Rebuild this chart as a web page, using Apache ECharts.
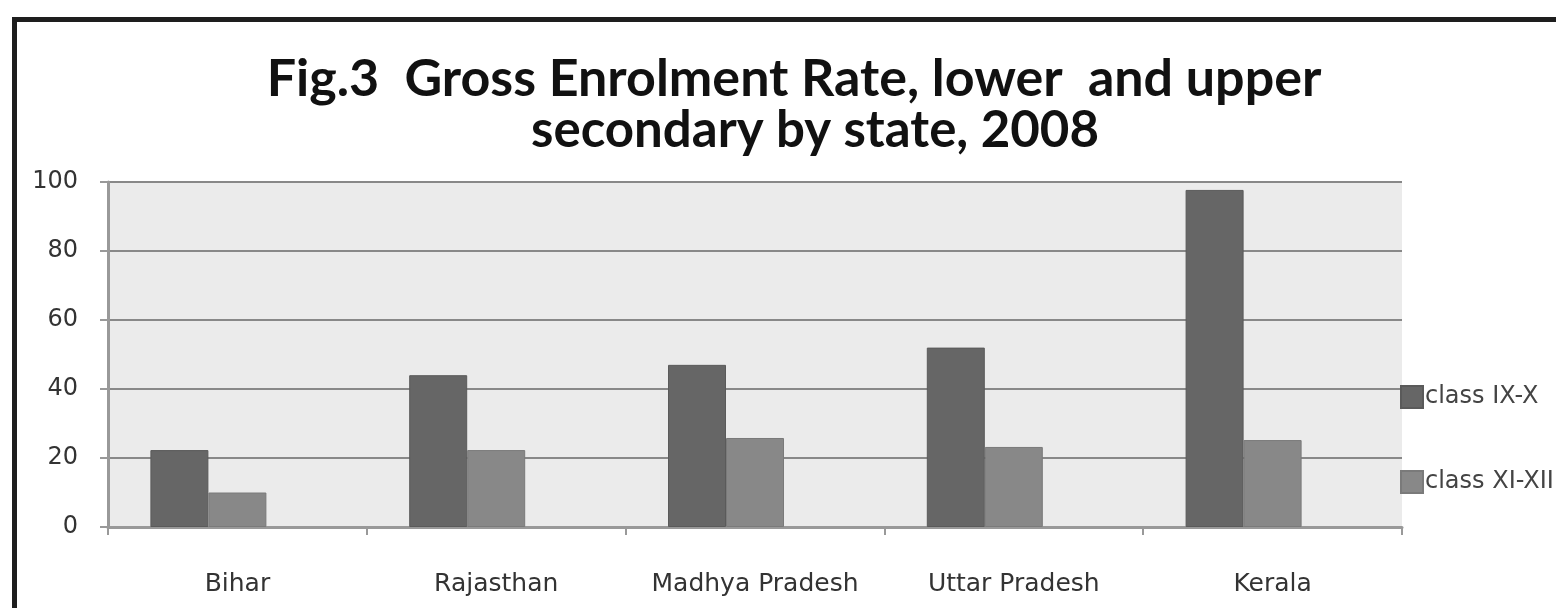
<!DOCTYPE html>
<html><head><meta charset="utf-8">
<script src="https://cdn.jsdelivr.net/npm/echarts@6/dist/echarts.min.js"></script>
<style>html,body{margin:0;padding:0;background:#fff}#c{width:1556px;height:608px}</style>
</head><body><div id="c"></div>
<script>
const categories = ['Bihar', 'Rajasthan', 'Madhya Pradesh', 'Uttar Pradesh', 'Kerala'];
const classIXX = [22.3, 44, 47, 52, 97.7];
const classXIXII = [10, 22.3, 25.8, 23.2, 25.2];
const seriesNames = ['class IX-X', 'class XI-XII'];
const titleLines = ['Fig.3  Gross Enrolment Rate, lower  and upper', 'secondary by state, 2008'];

const labelFont = 'DejaVu Sans';
const chart = echarts.init(document.getElementById('c'));
chart.setOption({
  backgroundColor: '#fff',
  animation: false,
  graphic: [{
    type: 'rect', left: 12, top: 17, z: -10,
    shape: { width: 1600, height: 700 },
    style: { fill: '#fff', stroke: '#1e1e1e', lineWidth: 5 }
  }],
  title: [
    { text: titleLines[0], left: 789, textAlign: 'center', top: 48,
      textStyle: { fontFamily: 'Lato', fontWeight: 'bold', fontSize: 52, color: '#111' } },
    { text: titleLines[1], left: 810, textAlign: 'center', top: 100,
      textStyle: { fontFamily: 'Lato', fontWeight: 'bold', fontSize: 51, color: '#111' } }
  ],
  legend: {
    orient: 'vertical', left: 1395, top: 380, itemGap: 61,
    itemWidth: 22, itemHeight: 22, icon: 'rect',
    textStyle: { fontFamily: labelFont, fontSize: 24, color: '#444', padding: [0,0,0,-3] },
    data: seriesNames
  },
  grid: { left: 108, top: 182, right: 154, bottom: 81, show: true, backgroundColor: '#ebebeb', borderWidth: 0 },
  xAxis: {
    type: 'category', data: categories,
    axisLine: { lineStyle: { color: '#999', width: 3 } },
    axisTick: { show: true, interval: 0, alignWithLabel: false, length: 8, lineStyle: { color: '#999', width: 2 } },
    axisLabel: { interval: 0, hideOverlap: false, fontFamily: labelFont, fontSize: 25, color: '#333', margin: 45 }
  },
  yAxis: {
    type: 'value', min: 0, max: 100, interval: 20,
    axisLine: { show: true, lineStyle: { color: '#999', width: 3 } },
    axisTick: { show: true, length: 8, lineStyle: { color: '#999', width: 2 } },
    axisLabel: { fontFamily: labelFont, fontSize: 24, color: '#333', margin: 30 },
    splitLine: { lineStyle: { color: '#888', width: 2 } }
  },
  series: [
    { name: seriesNames[0], type: 'bar', data: classIXX, barGap: '0%', barWidth: 58,
      itemStyle: { color: '#666666', borderColor: '#5a5a5a', borderWidth: 1 } },
    { name: seriesNames[1], type: 'bar', data: classXIXII, barWidth: 58,
      itemStyle: { color: '#888888', borderColor: '#7a7a7a', borderWidth: 1 } },
    { name: 'spacer', type: 'bar', data: [], barWidth: 58, silent: true }
  ]
});
</script></body></html>
